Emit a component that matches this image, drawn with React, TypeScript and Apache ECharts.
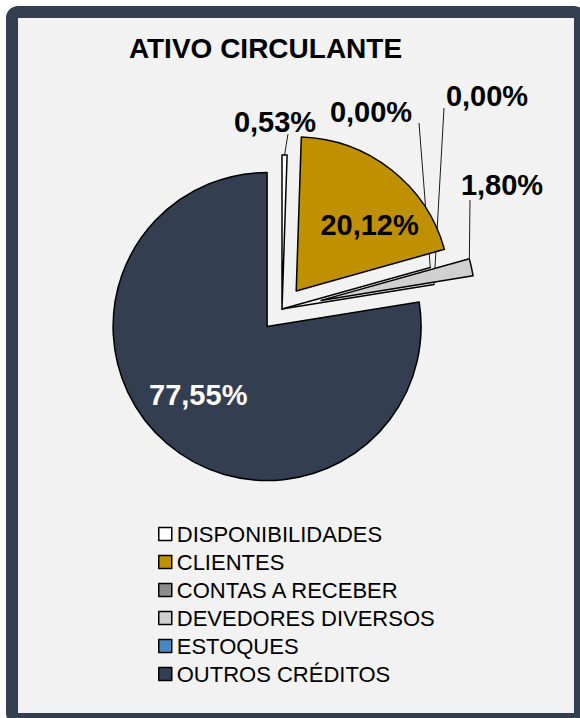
import React, { useEffect, useRef } from "react";
import * as echarts from "echarts";

// ---- data ----
const TITLE = "ATIVO CIRCULANTE";
const CATEGORIES = [
  "DISPONIBILIDADES",
  "CLIENTES",
  "CONTAS A RECEBER",
  "DEVEDORES DIVERSOS",
  "ESTOQUES",
  "OUTROS CRÉDITOS",
];
const SHARES = [0.53, 20.12, 0.0, 1.8, 0.0, 77.55];

// ---- style / layout ----
const COLORS = ["#ffffff", "#bf9000", "#8c8c8c", "#d0d0d0", "#4a86c0", "#333f50"];
const EXPLODE = [0, 23, 0, 40, 0, 23];
const LABEL_INSIDE = [false, true, false, false, false, true];
const LABEL_COLOR = ["#000", "#000", "#000", "#000", "#000", "#fff"];
const LABEL_POS: ([number, number] | null)[] = [[275, 122], null, [371, 112], [502, 185], [487, 96], null];
const LEADER_START: ([number, number] | null)[] = [[288, 134], null, [419, 123], [470, 200], [444, 108], null];
const LEADER_ANCHOR = [0.5, 0.5, 0.5, 0, 0.5, 0.5];
const INSIDE_SHIFT: ([number, number] | null)[] = [null, [24, -3], null, null, null, [-17, 8]];
const DRAW_ORDER = [5, 1, 3, 0, 2, 4];
const CENTER: [number, number] = [282, 309];
const RADIUS = 154;
const FONT = "'Liberation Sans', Arial, sans-serif";

const fmt = (v: number) => v.toFixed(2).replace(".", ",") + "%";

export default function App() {
  const ref = useRef<HTMLDivElement>(null);
  useEffect(() => {
    if (!ref.current) return;
    const chart = echarts.init(ref.current, undefined, { renderer: "svg" });

    const total = SHARES.reduce((a, b) => a + b, 0);
    const startAng: number[] = [];
    const endAng: number[] = [];
    let acc = 0;
    SHARES.forEach((v) => {
      startAng.push((acc / total) * 360);
      acc += v;
      endAng.push((acc / total) * 360);
    });
    const rad = (d: number) => (d * Math.PI) / 180;

    const series = DRAW_ORDER.map((i) => {
      const mid = rad((startAng[i] + endAng[i]) / 2);
      const cx = CENTER[0] + EXPLODE[i] * Math.sin(mid);
      const cy = CENTER[1] - EXPLODE[i] * Math.cos(mid);
      return {
        type: "pie",
        name: "s" + i,
        center: [cx, cy],
        radius: RADIUS,
        startAngle: 90,
        clockwise: true,
        avoidLabelOverlap: false,
        silent: true,
        emphasis: { disabled: true },
        labelLayout: (params: any) => {
          if (params.dataIndex !== i) return {};
          if (LABEL_INSIDE[i]) {
            const s = INSIDE_SHIFT[i] || [0, 0];
            return { dx: s[0], dy: s[1] };
          }
          const p = LABEL_POS[i]!;
          const st = LEADER_START[i]!;
          const a = rad(startAng[i] + LEADER_ANCHOR[i] * (endAng[i] - startAng[i]));
          const ex = cx + RADIUS * Math.sin(a);
          const ey = cy - RADIUS * Math.cos(a);
          return {
            x: p[0],
            y: p[1],
            align: "center",
            verticalAlign: "middle",
            labelLinePoints: [
              [st[0], st[1]],
              [(st[0] + ex) / 2, (st[1] + ey) / 2],
              [ex, ey],
            ],
          };
        },
        data: CATEGORIES.map((name, j) => ({
          name,
          value: SHARES[j],
          itemStyle:
            j === i
              ? { color: COLORS[j], borderColor: "#000", borderWidth: 1.5 }
              : { color: "rgba(0,0,0,0)", borderColor: "rgba(0,0,0,0)", borderWidth: 0 },
          label:
            j === i
              ? {
                  show: true,
                  position: LABEL_INSIDE[j] ? "inside" : "outside",
                  formatter: () => fmt(SHARES[j]),
                  color: LABEL_COLOR[j],
                  fontSize: 29,
                  fontWeight: "bold",
                  fontFamily: FONT,
                }
              : { show: false },
          labelLine:
            j === i && !LABEL_INSIDE[j]
              ? { show: true, lineStyle: { color: "#1a1a1a", width: 1 } }
              : { show: false },
        })),
      };
    });

    chart.setOption({
      animation: false,
      graphic: [
        {
          type: "rect",
          z: -10,
          silent: true,
          shape: { x: 12, y: 12, width: 568, height: 707, r: 6 },
          style: { fill: "#f2f2f2", stroke: "#333f50", lineWidth: 12 },
        },
        {
          type: "text",
          silent: true,
          x: 265.5,
          y: 48,
          style: {
            text: TITLE,
            fill: "#000",
            font: `bold 28px ${FONT}`,
            textAlign: "center",
            textVerticalAlign: "middle",
          },
        },
      ],
      legend: {
        orient: "vertical",
        left: 158,
        top: 523,
        padding: 0,
        icon: "rect",
        itemWidth: 13,
        itemHeight: 13,
        itemGap: 6,
        selectedMode: false,
        textStyle: { fontSize: 22, lineHeight: 22, color: "#000", fontFamily: FONT },
        data: CATEGORIES.map((name, j) => ({
          name,
          itemStyle: { color: COLORS[j], borderColor: "#000", borderWidth: 1.5 },
        })),
      },
      series,
    });
    return () => chart.dispose();
  }, []);
  return (
    <div
      ref={ref}
      style={{ position: "absolute", left: 0, top: 0, width: 580, height: 718 }}
    />
  );
}
